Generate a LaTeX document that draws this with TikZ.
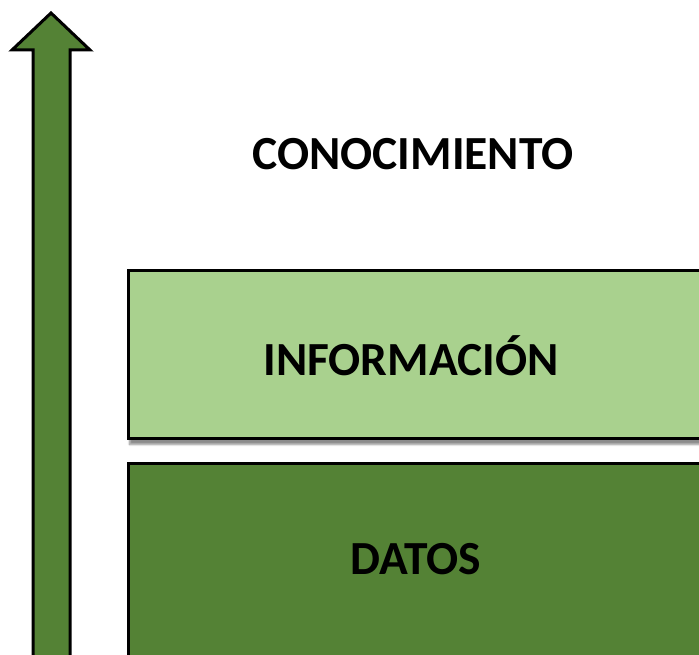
\documentclass[tikz,border=0pt]{standalone}
\usepackage{fontspec}
\setmainfont{Carlito}
\usepackage{tikz}
\usetikzlibrary{shadows.blur}
\definecolor{verdeclaro}{HTML}{A9D18E}
\definecolor{verdeoscuro}{HTML}{548235}
\tikzset{
	capa/.style={draw=black, line width=3pt, blur shadow={shadow xshift=1pt, shadow yshift=-6pt, shadow blur steps=6, shadow opacity=45}},
	rotulo/.style={font=\fontsize{47.5}{52}\selectfont\bfseries, text=black}
}

\begin{document}
\begin{tikzpicture}[x=1pt, y=-1pt]
				\useasboundingbox (0,0) rectangle (699,655);
				\clip (0,0) rectangle (699,655);
				% flecha de la izquierda
				\draw [line width=3pt, fill=verdeoscuro, line join=miter] (51,13) -- (90,50) -- (70,50) -- (70,720) -- (33,720) -- (33,50) -- (12,50) -- cycle;
				% capas
				\node[capa, fill=verdeclaro, minimum width=620pt, minimum height=168pt, anchor=north west] (info) at (127,269) {};
				\node[capa, fill=verdeoscuro, minimum width=620pt, minimum height=260pt, anchor=north west] (datos) at (127,462) {};
				\node[rotulo] (tconoc) at (413,154) {CONOCIMIENTO};
				\node[rotulo] (tinfo) at (411,356) {INFORMACIÓN};
				\node[rotulo] (tdatos) at (416,559) {DATOS};
				\end{tikzpicture}
\end{document}
